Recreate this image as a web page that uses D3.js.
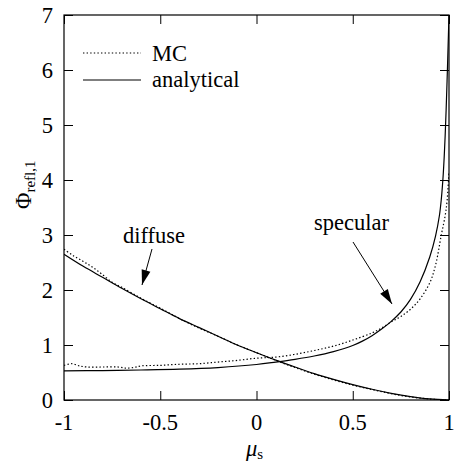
<!DOCTYPE html>
<html><head><meta charset="utf-8">
<script src="https://cdn.jsdelivr.net/npm/d3@7"></script>
<style>body{margin:0;background:#fff}svg{display:block}</style>
</head><body>
<svg id="c" width="456" height="464"></svg>
<script>
const xTicks = [-1, -0.5, 0, 0.5, 1];
const xTickLabels = ["-1", "-0.5", "0", "0.5", "1"];
const yTicks = [0, 1, 2, 3, 4, 5, 6, 7];

const diffMu   = [-1,-0.9,-0.8,-0.7,-0.6,-0.5,-0.4,-0.3,-0.2,-0.1,0,0.1,0.2,0.3,0.4,0.5,0.6,0.7,0.8,0.9,1];
const diffAna  = [2.65,2.43,2.23,2.03,1.84,1.66,1.48,1.32,1.16,1.0,0.86,0.725,0.60,0.48,0.376,0.28,0.195,0.122,0.063,0.02,0];
const diffMcMu = [-1,-0.95,-0.9,-0.85,-0.8,-0.75,-0.7,-0.6,-0.5,-0.4,-0.3,-0.2,-0.1,0,0.1,0.2,0.3,0.4,0.5,0.6,0.7,0.8,0.9,1];
const diffMc   = [2.74,2.62,2.52,2.41,2.28,2.14,2.05,1.85,1.67,1.48,1.31,1.16,1.0,0.86,0.72,0.59,0.47,0.365,0.27,0.19,0.115,0.055,0.018,0];

const specMu   = [-1,-0.8,-0.6,-0.4,-0.2,0,0.1,0.2,0.3,0.4,0.5,0.55,0.6,0.65,0.7,0.75,0.8,0.85,0.9,0.93,0.95,0.96,0.97,0.98,0.99,0.995,1];
const specAna  = [0.53,0.535,0.545,0.56,0.59,0.645,0.69,0.74,0.80,0.88,0.99,1.07,1.17,1.29,1.43,1.6,1.83,2.15,2.6,2.98,3.35,3.65,4.1,4.8,5.8,6.4,7.0];
const specMcMu = [-1,-0.96,-0.92,-0.88,-0.8,-0.72,-0.68,-0.64,-0.6,-0.5,-0.4,-0.3,-0.2,-0.1,0,0.1,0.2,0.3,0.4,0.5,0.6,0.65,0.7,0.75,0.8,0.85,0.9,0.93,0.96,0.98,0.99,1];
const specMc   = [0.63,0.66,0.62,0.60,0.60,0.60,0.58,0.59,0.62,0.63,0.65,0.66,0.69,0.72,0.76,0.78,0.83,0.90,0.98,1.09,1.22,1.31,1.42,1.52,1.65,1.84,2.13,2.45,3.0,3.35,3.62,4.15];

const svg = d3.select("#c");
const L = 64, R = 449, T = 15, B = 400;
const x = d3.scaleLinear().domain([-1, 1]).range([L, R]);
const y = d3.scaleLinear().domain([0, 7]).range([B, T]);

svg.append("defs").append("clipPath").attr("id","clp").append("rect")
  .attr("x", L).attr("y", T).attr("width", R-L).attr("height", B-T);

// ticks (inward, all four sides)
const tl = 9;
const noDomain = g => g.select(".domain").remove();
svg.append("g").attr("transform",`translate(0,${B})`)
  .call(d3.axisBottom(x).tickValues(xTicks).tickSize(-tl).tickFormat("")).call(noDomain);
svg.append("g").attr("transform",`translate(0,${T})`)
  .call(d3.axisTop(x).tickValues(xTicks).tickSize(-tl).tickFormat("")).call(noDomain);
svg.append("g").attr("transform",`translate(${L},0)`)
  .call(d3.axisLeft(y).tickValues(yTicks).tickSize(-tl).tickFormat("")).call(noDomain);
svg.append("g").attr("transform",`translate(${R},0)`)
  .call(d3.axisRight(y).tickValues(yTicks).tickSize(-tl).tickFormat("")).call(noDomain);
svg.selectAll(".tick line").attr("stroke","#000").attr("stroke-width",1);

svg.append("rect").attr("x",L).attr("y",T).attr("width",R-L).attr("height",B-T)
  .attr("fill","none").attr("stroke","#000").attr("stroke-width",1.2);

const FF = "Liberation Serif";
const FS = 22.5;
// tick labels
svg.append("g").selectAll("text").data(xTicks).join("text")
  .attr("x", d=>x(d)).attr("y", 430).attr("text-anchor","middle").attr("font-family",FF)
  .attr("font-size", FS).text((d,i)=>xTickLabels[i]);
svg.append("g").selectAll("text").data(yTicks).join("text")
  .attr("x", 53).attr("y", d=>y(d)+7.5).attr("text-anchor","end").attr("font-family",FF)
  .attr("font-size", FS).text(d=>d);

// curves
const line = d3.line().x(d=>x(d[0])).y(d=>y(d[1])).curve(d3.curveCatmullRom.alpha(0.5));
const gC = svg.append("g").attr("clip-path","url(#clp)");
const zip = (a,b)=>a.map((v,i)=>[v,b[i]]);
gC.append("path").attr("d", line(zip(diffMu,diffAna))).attr("fill","none").attr("stroke","#000").attr("stroke-width",1.2);
gC.append("path").attr("d", line(zip(specMu,specAna))).attr("fill","none").attr("stroke","#000").attr("stroke-width",1.2);
gC.append("path").attr("d", line(zip(diffMcMu,diffMc))).attr("fill","none").attr("stroke","#000").attr("stroke-width",1.2).attr("stroke-dasharray","1.4,2.2");
gC.append("path").attr("d", line(zip(specMcMu,specMc))).attr("fill","none").attr("stroke","#000").attr("stroke-width",1.2).attr("stroke-dasharray","1.4,2.2");

// legend
svg.append("line").attr("x1",83).attr("x2",141).attr("y1",53).attr("y2",53).attr("stroke","#000").attr("stroke-width",1.2).attr("stroke-dasharray","1.4,2.2");
svg.append("line").attr("x1",83).attr("x2",141).attr("y1",80).attr("y2",80).attr("stroke","#000").attr("stroke-width",1.2);
svg.append("text").attr("x",152).attr("y",61).attr("font-family",FF).attr("font-size",FS).text("MC");
svg.append("text").attr("x",152).attr("y",87).attr("font-family",FF).attr("font-size",FS).text("analytical");

// annotations
function arrow(x1,y1,x2,y2){
  svg.append("line").attr("x1",x1).attr("y1",y1).attr("x2",x2).attr("y2",y2).attr("stroke","#000").attr("stroke-width",1);
  const a = Math.atan2(y2-y1,x2-x1), len=15, w=4.5;
  const bx = x2 - len*Math.cos(a), by = y2 - len*Math.sin(a);
  const px = -Math.sin(a)*w, py = Math.cos(a)*w;
  svg.append("path").attr("d",`M${x2},${y2}L${bx+px},${by+py}L${bx-px},${by-py}Z`).attr("fill","#000");
}
svg.append("text").attr("x",123).attr("y",243).attr("font-family",FF).attr("font-size",FS).text("diffuse");
arrow(152,249,142,285);
svg.append("text").attr("x",314).attr("y",230).attr("font-family",FF).attr("font-size",FS).text("specular");
arrow(353,242,392,304);

// axis labels
const yl = svg.append("text").attr("transform","translate(31,209) rotate(-90)").attr("font-family",FF).attr("font-size",FS);
yl.append("tspan").text("Φ");
yl.append("tspan").attr("font-size",15).attr("dy",4).text("refl,1");
const xl = svg.append("text").attr("x",246).attr("y",456).attr("font-family",FF).attr("font-size",FS);
xl.append("tspan").attr("font-style","italic").text("μ");
xl.append("tspan").attr("font-size",15).attr("dy",3).text("s");
</script>
</body></html>
